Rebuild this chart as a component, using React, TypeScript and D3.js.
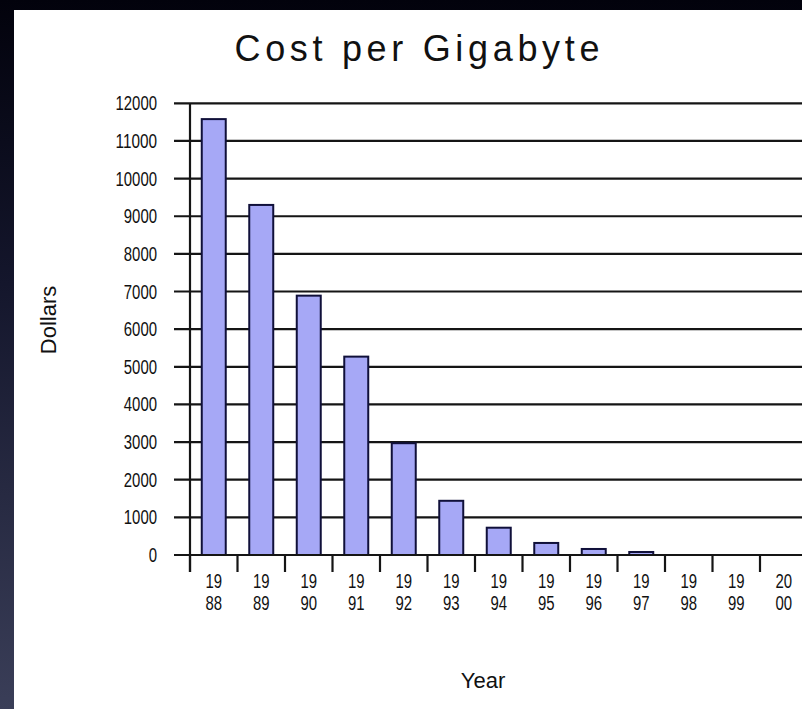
import React from "react";
import * as d3 from "d3";

const years = ["1988","1989","1990","1991","1992","1993","1994","1995","1996","1997","1998","1999","2000"];
const costs = [11580, 9300, 6890, 5270, 2970, 1440, 725, 320, 160, 80, 0, 0, 0];
const yTicks = [0,1000,2000,3000,4000,5000,6000,7000,8000,9000,10000,11000,12000];
const title = "Cost per Gigabyte";
const xTitle = "Year";
const yTitle = "Dollars";

const W = 802, H = 709;
const FONT = "'Liberation Sans', Arial, sans-serif";
const DIGIT_W = 8.3;
const LABEL_FS = 20;

export default function App() {
  const x = d3.scaleBand<string>().domain(years).range([190, 807.5]).paddingInner(0.495).paddingOuter(0.2475);
  const y = d3.scaleLinear().domain([0, 12000]).range([555, 103.3]);
  const step = x.step();
  const x0 = x.range()[0];
  return (
    <svg width={W} height={H} style={{ position: "absolute", left: 0, top: 0, display: "block" }}>
      <defs>
        <linearGradient id="bg" x1="0" y1="0" x2="0" y2="1">
          <stop offset="0" stopColor="#02020c" />
          <stop offset="0.4" stopColor="#14162c" />
          <stop offset="1" stopColor="#3a3e58" />
        </linearGradient>
      </defs>
      <rect x={0} y={0} width={W} height={H} fill="url(#bg)" />
      <rect x={14} y={10} width={W - 14} height={H - 10} fill="#ffffff" />
      <text x={417} y={61} textAnchor="middle" fontFamily={FONT} fontSize={36} textLength={365} lengthAdjust="spacing" fill="#111">{title}</text>
      {yTicks.filter(t => t > 0).map(t => (
        <line key={"g" + t} x1={174} x2={W} y1={y(t)} y2={y(t)} stroke="#151515" strokeWidth={2.2} />
      ))}
      {yTicks.map(t => {
        const s = String(t);
        return (
          <text key={"yl" + t} x={157} y={y(t) + 7} textAnchor="end" fontFamily={FONT} fontSize={LABEL_FS}
            textLength={DIGIT_W * s.length} lengthAdjust="spacingAndGlyphs" fill="#111">{s}</text>
        );
      })}
      {years.map((yr, i) => costs[i] > 0 ? (
        <rect key={"b" + yr} x={x(yr)!} y={y(costs[i])} width={x.bandwidth()} height={y(0) - y(costs[i])}
          fill="#a6a8f6" stroke="#10103a" strokeWidth={2} />
      ) : null)}
      <line x1={174} x2={W} y1={y(0)} y2={y(0)} stroke="#151515" strokeWidth={2.2} />
      <line x1={x0} x2={x0} y1={y(12000)} y2={572} stroke="#151515" strokeWidth={2.2} />
      {d3.range(years.length + 1).map(i => (
        <line key={"t" + i} x1={x0 + i * step} x2={x0 + i * step} y1={y(0)} y2={572} stroke="#151515" strokeWidth={2.2} />
      ))}
      {years.map(yr => {
        const cx = x(yr)! + x.bandwidth() / 2;
        return (
          <g key={"xl" + yr}>
            <text x={cx} y={588} textAnchor="middle" fontFamily={FONT} fontSize={LABEL_FS} textLength={DIGIT_W * 2} lengthAdjust="spacingAndGlyphs" fill="#111">{yr.slice(0, 2)}</text>
            <text x={cx} y={610} textAnchor="middle" fontFamily={FONT} fontSize={LABEL_FS} textLength={DIGIT_W * 2} lengthAdjust="spacingAndGlyphs" fill="#111">{yr.slice(2)}</text>
          </g>
        );
      })}
      <text x={483} y={688} textAnchor="middle" fontFamily={FONT} fontSize={22} fill="#111">{xTitle}</text>
      <text transform="translate(56,320) rotate(-90)" textAnchor="middle" fontFamily={FONT} fontSize={22} fill="#111">{yTitle}</text>
    </svg>
  );
}
